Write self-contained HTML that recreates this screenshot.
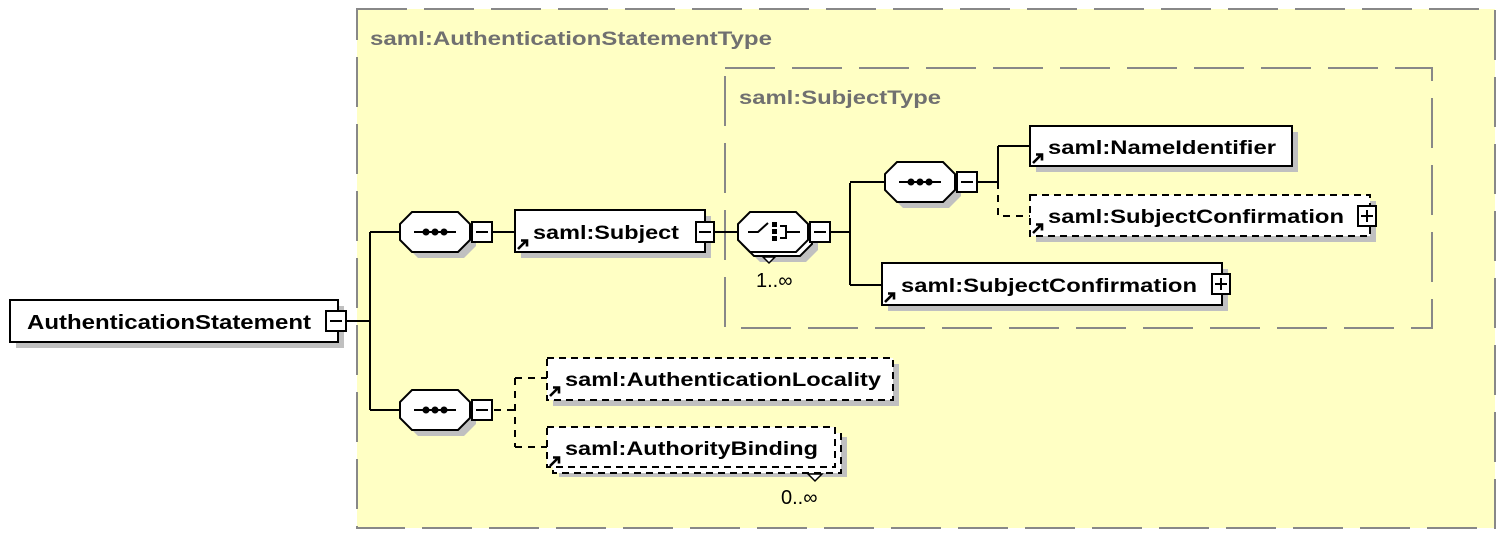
<!DOCTYPE html>
<html><head><meta charset="utf-8"><style>
html,body{margin:0;padding:0;background:#fff;width:1506px;height:544px;overflow:hidden}
svg{display:block}
text{font-family:"Liberation Sans",Arial,sans-serif;font-weight:bold}
</style></head><body>
<svg width="1506" height="544" viewBox="0 0 1506 544" xmlns="http://www.w3.org/2000/svg">
<defs>
<g id="seq">
<polygon points="12,0 58,0 70,12 70,28 58,40 12,40 0,28 0,12" transform="translate(6,6)" fill="#c0c0c0"/>
<polygon points="12,0 58,0 70,12 70,28 58,40 12,40 0,28 0,12" fill="#fff" stroke="#000" stroke-width="2"/>
<line x1="14" y1="20" x2="56" y2="20" stroke="#000" stroke-width="2"/>
<circle cx="26" cy="20" r="3.5" fill="#000"/><circle cx="35" cy="20" r="3.5" fill="#000"/><circle cx="44" cy="20" r="3.5" fill="#000"/>
<rect x="72" y="10" width="20" height="20" fill="#fff" stroke="#000" stroke-width="2"/>
<line x1="76" y1="20" x2="88" y2="20" stroke="#000" stroke-width="2"/>
</g>
<g id="arr"><path d="M0,11 L8,3 M3,2.5 L9,2.5 L9,8.5" stroke="#000" stroke-width="2.6" fill="none"/></g>
</defs>
<rect x="0" y="0" width="1506" height="544" fill="#fff"/>
<rect x="357" y="9" width="1138" height="519" fill="#ffffc4" stroke="#888" stroke-width="2" stroke-dasharray="50,17"/>
<text x="370" y="45" font-size="19" fill="#707070" textLength="402" lengthAdjust="spacingAndGlyphs">saml:AuthenticationStatementType</text>
<rect x="725" y="68" width="707" height="260" fill="none" stroke="#888" stroke-width="2" stroke-dasharray="50,17"/>
<text x="739" y="104" font-size="19" fill="#707070" textLength="202" lengthAdjust="spacingAndGlyphs">saml:SubjectType</text>

<rect x="16" y="306" width="328" height="42" fill="#c0c0c0"/>
<rect x="10" y="300" width="328" height="42" fill="#fff" stroke="#000" stroke-width="2"/>
<text x="27" y="329" font-size="20" fill="#000" textLength="284" lengthAdjust="spacingAndGlyphs">AuthenticationStatement</text>
<rect x="326" y="311" width="20" height="20" fill="#fff" stroke="#000" stroke-width="2"/>
<line x1="330" y1="321" x2="342" y2="321" stroke="#000" stroke-width="2"/>
<path d="M346,321 H370 M370,232 V410 M370,232 H400 M370,410 H400" stroke="#000" stroke-width="2" fill="none"/>

<use href="#seq" x="400" y="212"/>
<line x1="492" y1="232" x2="515" y2="232" stroke="#000" stroke-width="2"/>
<rect x="521" y="216" width="190" height="42" fill="#c0c0c0"/>
<rect x="515" y="210" width="190" height="42" fill="#fff" stroke="#000" stroke-width="2"/>
<use href="#arr" x="518" y="238"/>
<text x="533" y="239" font-size="19" textLength="146" lengthAdjust="spacingAndGlyphs">saml:Subject</text>
<rect x="696" y="222" width="18" height="20" fill="#fff" stroke="#000" stroke-width="2"/>
<line x1="699" y1="232" x2="711" y2="232" stroke="#000" stroke-width="2"/>
<line x1="714" y1="232" x2="738" y2="232" stroke="#000" stroke-width="2"/>

<g transform="translate(738,212)">
<polygon points="12,0 58,0 70,12 70,28 58,40 12,40 0,28 0,12" transform="translate(10,10)" fill="#c0c0c0"/>
<polygon points="12,0 58,0 70,12 70,28 58,40 12,40 0,28 0,12" transform="translate(4,4)" fill="#fff" stroke="#000" stroke-width="2"/>
<polygon points="12,0 58,0 70,12 70,28 58,40 12,40 0,28 0,12" fill="#fff" stroke="#000" stroke-width="2"/>
<path d="M10,20 H20 L30,11 M42,14 H48 V26 H42 M48,20 H62" stroke="#000" stroke-width="2" fill="none"/>
<rect x="34" y="10" width="5" height="5" fill="#000"/><rect x="34" y="17" width="5" height="5" fill="#000"/><rect x="34" y="24" width="5" height="5" fill="#000"/>
<polygon points="25,45 31,51 37,45" fill="#fff" stroke="#000" stroke-width="1.5"/>
<rect x="72" y="10" width="20" height="20" fill="#fff" stroke="#000" stroke-width="2"/>
<line x1="76" y1="20" x2="88" y2="20" stroke="#000" stroke-width="2"/>
</g>
<text x="756" y="287" font-size="20" style="font-weight:normal">1..∞</text>
<path d="M830,232 H850 M850,183 V285 M850,182 H885 M850,285 H882" stroke="#000" stroke-width="2" fill="none"/>

<use href="#seq" x="885" y="162"/>
<path d="M976,182 H998 M998,146 V182 M998,146 H1030" stroke="#000" stroke-width="2" fill="none"/>
<path d="M998,182 V216 H1030" stroke="#000" stroke-width="2" fill="none" stroke-dasharray="7,6"/>
<rect x="1036" y="132" width="262" height="40" fill="#c0c0c0"/>
<rect x="1030" y="126" width="262" height="40" fill="#fff" stroke="#000" stroke-width="2"/>
<use href="#arr" x="1033" y="152"/>
<text x="1048" y="154" font-size="19" textLength="228" lengthAdjust="spacingAndGlyphs">saml:NameIdentifier</text>

<rect x="1036" y="201" width="340" height="41" fill="#c0c0c0"/>
<rect x="1030" y="195" width="340" height="41" fill="#fff" stroke="#000" stroke-width="2" stroke-dasharray="7,5"/>
<use href="#arr" x="1033" y="222"/>
<text x="1048" y="223" font-size="19" textLength="296" lengthAdjust="spacingAndGlyphs">saml:SubjectConfirmation</text>
<rect x="1358" y="206" width="18" height="20" fill="#fff" stroke="#000" stroke-width="2"/>
<path d="M1361,216 H1373 M1367,210 V222" stroke="#000" stroke-width="2"/>

<rect x="888" y="269" width="340" height="42" fill="#c0c0c0"/>
<rect x="882" y="263" width="340" height="42" fill="#fff" stroke="#000" stroke-width="2"/>
<use href="#arr" x="885" y="291"/>
<text x="901" y="292" font-size="19" textLength="296" lengthAdjust="spacingAndGlyphs">saml:SubjectConfirmation</text>
<rect x="1212" y="274" width="18" height="20" fill="#fff" stroke="#000" stroke-width="2"/>
<path d="M1215,284 H1227 M1221,278 V290" stroke="#000" stroke-width="2"/>

<use href="#seq" x="400" y="390"/>
<path d="M494,410 H515 M515,378 V447 M515,378 H547 M515,447 H547" stroke="#000" stroke-width="2" fill="none" stroke-dasharray="7,6"/>
<rect x="553" y="364" width="346" height="42" fill="#c0c0c0"/>
<rect x="547" y="358" width="346" height="42" fill="#fff" stroke="#000" stroke-width="2" stroke-dasharray="7,5"/>
<use href="#arr" x="550" y="385"/>
<text x="565" y="386" font-size="19" textLength="316" lengthAdjust="spacingAndGlyphs">saml:AuthenticationLocality</text>

<rect x="559" y="437" width="288" height="40" fill="#c0c0c0"/>
<rect x="553" y="433" width="288" height="40" fill="#fff" stroke="#000" stroke-width="2" stroke-dasharray="7,5"/>
<rect x="547" y="427" width="288" height="40" fill="#fff" stroke="#000" stroke-width="2" stroke-dasharray="7,5"/>
<use href="#arr" x="550" y="455"/>
<text x="565" y="455" font-size="19" textLength="253" lengthAdjust="spacingAndGlyphs">saml:AuthorityBinding</text>
<polygon points="808,474 815,481 822,474" fill="#fff" stroke="#000" stroke-width="1.5"/>
<text x="781" y="504" font-size="20" style="font-weight:normal">0..∞</text>
</svg>
</body></html>
